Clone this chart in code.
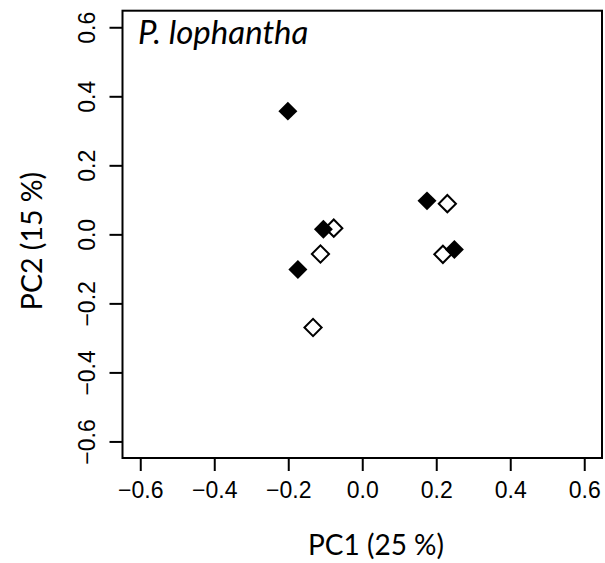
<!DOCTYPE html>
<html>
<head>
<meta charset="utf-8">
<script src="https://cdn.jsdelivr.net/npm/d3@7"></script>
<style>
  body { margin: 0; background: #ffffff; }
</style>
</head>
<body>
<div id="wrapper"></div>
<script>
// group 1 (filled diamonds)
const filledPC1 = [-0.201, 0.175, 0.249, -0.105, -0.174];
const filledPC2 = [0.357, 0.097, -0.044, 0.015, -0.102];
// group 2 (open diamonds)
const openPC1 = [-0.077, -0.113, -0.133, 0.230, 0.218];
const openPC2 = [0.018, -0.057, -0.270, 0.089, -0.058];

const tickValues = [-0.6, -0.4, -0.2, 0.0, 0.2, 0.4, 0.6];
const axisDomain = [-0.648, 0.648];

const xTitle = "PC1 (25 %)";
const yTitle = "PC2 (15 %)";
const panelLabel = "P. lophantha";

function drawScatter() {
  let dimensions = {
    width: 605,
    height: 563,
    margin: {
      top: 10.7,
      right: 3,
      bottom: 105,
      left: 122.5,
    },
  };

  dimensions.boundedWidth =
    dimensions.width - dimensions.margin.left - dimensions.margin.right;
  dimensions.boundedHeight =
    dimensions.height - dimensions.margin.top - dimensions.margin.bottom;

  const wrapper = d3
    .select("#wrapper")
    .append("svg")
    .attr("width", dimensions.width)
    .attr("height", dimensions.height);

  const bounds = wrapper
    .append("g")
    .attr(
      "transform",
      `translate(${dimensions.margin.left}, ${dimensions.margin.top})`
    );

  const xScale = d3
    .scaleLinear()
    .domain(axisDomain)
    .range([0, dimensions.boundedWidth]);

  const yScale = d3
    .scaleLinear()
    .domain(axisDomain)
    .range([dimensions.boundedHeight, 0]);

  const fmt = (d) => d3.format(".1f")(d).replace("-", "\u2212");

  // axes
  const xAxisGenerator = d3
    .axisBottom(xScale)
    .tickValues(tickValues)
    .tickSize(13)
    .tickSizeOuter(0)
    .tickPadding(11)
    .tickFormat(fmt);

  const xAxis = bounds
    .append("g")
    .attr("transform", `translate(0, ${dimensions.boundedHeight})`)
    .call(xAxisGenerator);
  xAxis.select(".domain").remove();
  xAxis.selectAll("line").attr("stroke", "#000").attr("stroke-width", 2);
  xAxis
    .selectAll("text")
    .attr("fill", "#000")
    .style("font-family", "'Liberation Sans', Arial, sans-serif")
    .style("font-size", "23px");

  const yAxisGenerator = d3
    .axisLeft(yScale)
    .tickValues(tickValues)
    .tickSize(13)
    .tickSizeOuter(0)
    .tickFormat(fmt);

  const yAxis = bounds.append("g").call(yAxisGenerator);
  yAxis.select(".domain").remove();
  yAxis.selectAll("line").attr("stroke", "#000").attr("stroke-width", 2);
  yAxis
    .selectAll("text")
    .attr("fill", "#000")
    .attr("x", 0)
    .attr("dy", 0)
    .attr("transform", "translate(-27.5, 0) rotate(-90)")
    .attr("text-anchor", "middle")
    .style("font-family", "'Liberation Sans', Arial, sans-serif")
    .style("font-size", "23px");

  // box
  bounds
    .append("rect")
    .attr("width", dimensions.boundedWidth)
    .attr("height", dimensions.boundedHeight)
    .attr("fill", "none")
    .attr("stroke", "#000")
    .attr("stroke-width", 2);

  const diamond = d3.symbol().type(d3.symbolSquare);

  // open diamonds first, filled ones on top
  bounds
    .selectAll(".open")
    .data(d3.range(openPC1.length))
    .join("path")
    .attr("class", "open")
    .attr("d", diamond.size(148)())
    .attr(
      "transform",
      (i) => `translate(${xScale(openPC1[i])}, ${yScale(openPC2[i])}) rotate(45)`
    )
    .attr("fill", "#fff")
    .attr("stroke", "#000")
    .attr("stroke-width", 2);

  bounds
    .selectAll(".filled")
    .data(d3.range(filledPC1.length))
    .join("path")
    .attr("class", "filled")
    .attr("d", diamond.size(180)())
    .attr(
      "transform",
      (i) =>
        `translate(${xScale(filledPC1[i])}, ${yScale(filledPC2[i])}) rotate(45)`
    )
    .attr("fill", "#000");

  // titles
  wrapper
    .append("text")
    .text(xTitle)
    .attr("x", 376)
    .attr("y", 555)
    .attr("text-anchor", "middle")
    .style("font-family", "Lato, sans-serif")
    .style("font-size", "28px");

  wrapper
    .append("text")
    .text(yTitle)
    .attr("transform", "translate(42, 241) rotate(-90)")
    .attr("text-anchor", "middle")
    .style("font-family", "Lato, sans-serif")
    .style("font-size", "28.5px");

  wrapper
    .append("text")
    .text(panelLabel)
    .attr("x", 138)
    .attr("y", 44)
    .style("font-family", "Lato, sans-serif")
    .style("font-style", "italic")
    .style("font-size", "33px");
}

drawScatter();
</script>
</body>
</html>
